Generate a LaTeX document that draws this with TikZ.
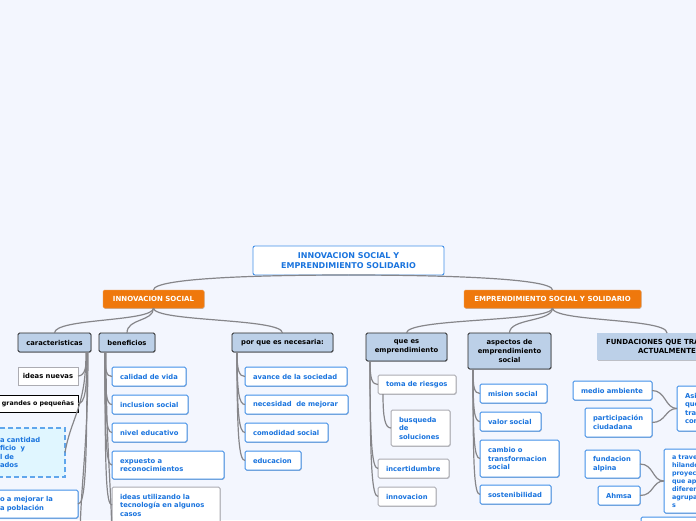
\documentclass[tikz,border=0pt]{standalone}
\usepackage{fontspec}
\setmainfont{DejaVu Sans}
\usetikzlibrary{shadows,calc}
\definecolor{bg}{RGB}{243,246,254}
\definecolor{orng}{RGB}{239,120,12}
\definecolor{lvl}{RGB}{188,208,232}
\definecolor{bluetxt}{RGB}{26,116,222}
\definecolor{blueln}{RGB}{66,144,232}
\definecolor{grayln}{RGB}{172,172,178}
\definecolor{conn}{RGB}{134,134,138}
\definecolor{cyanfill}{RGB}{224,246,255}
\definecolor{dashln}{RGB}{96,166,236}
\newcommand\mybranchR[4]{\draw[conn] ($(#1.south west)+(#3,0)$) .. controls +(0,#4) and +(-6,0) .. (#2.west);}
\newcommand\mybranchL[4]{\draw[conn] ($(#1.south east)+(#3,0)$) .. controls +(0,#4) and +(7,0) .. (#2.east);}
\begin{document}
\begin{tikzpicture}[x=1pt,y=-1pt,
  font=\fontsize{6.8}{8.5}\selectfont\bfseries,
  shd/.style={drop shadow={shadow xshift=0.6pt,shadow yshift=-0.8pt,opacity=0.22,fill=black}},
  bx/.style 2 args={anchor=north west,minimum width=#1pt,minimum height=#2pt,inner ysep=0pt,outer sep=0pt},
  tw/.style={text width=#1pt,align=left},
  rootbox/.style={fill=white,draw=blueln,line width=0.9pt,rounded corners=2pt,text=bluetxt,align=center,
     font=\fontsize{8}{10}\selectfont\bfseries},
  orangebox/.style={fill=orng,draw=orng!85!white,line width=0.5pt,rounded corners=1.5pt,text=white,shd,
     font=\fontsize{7}{8.5}\selectfont\bfseries},
  lvlbox/.style={fill=lvl,draw=black!85,line width=0.9pt,rounded corners=1.5pt,text=black,align=center,shd,
     font=\fontsize{6.8}{8.6}\selectfont\bfseries},
  fundbox/.style={fill=lvl,draw=none,text=black,shd,font=\fontsize{7}{9}\selectfont\bfseries},
  leafb/.style={fill=white,draw=blueln,line width=1pt,rounded corners=1.5pt,text=bluetxt,inner xsep=8pt,shd},
  leafg/.style={fill=white,draw=grayln,line width=1pt,rounded corners=1.5pt,text=bluetxt,inner xsep=8pt,shd},
  leafk/.style={fill=white,draw=grayln,line width=1pt,text=black},
  leafkk/.style={fill=white,draw=black,line width=1pt,text=black},
  dashbox/.style={fill=cyanfill,draw=dashln,line width=1.3pt,dash pattern=on 5pt off 3pt,text=bluetxt},
  conn/.style={draw=conn,line width=1.2pt}]
\useasboundingbox[fill=bg] (0,0) rectangle (696,520);

% root and main branches
\node[rootbox,bx={191}{29}] (root) at (253,246) {INNOVACION SOCIAL Y\\EMPRENDIMIENTO SOLIDARIO};
\node[orangebox,bx={101}{18}] (innov) at (103,290) {INNOVACION SOCIAL};
\node[orangebox,bx={177}{18}] (empr) at (464,290) {EMPRENDIMIENTO SOCIAL Y SOLIDARIO};

% level 2
\node[lvlbox,bx={73}{19}] (car) at (18,333) {caracteristicas};
\node[lvlbox,bx={56}{19}] (ben) at (99,333) {beneficios};
\node[lvlbox,bx={101}{19}] (porq) at (232,333) {por que es necesaria:};
\node[lvlbox,bx={81}{28}] (quees) at (366,333) {que es\\emprendimiento};
\node[lvlbox,bx={83}{36}] (asp) at (468,333) {aspectos de\\emprendimiento\\social};
\node[fundbox,bx={140}{27},inner xsep=9pt,tw=122] (fund) at (597,333) {FUNDACIONES QUE TRA\\\hspace*{32pt}ACTUALMENTE};

% caracteristicas leaves
\node[leafk,bx={60}{18}] (idn) at (18,367) {ideas nuevas};
\node[leafkk,bx={80}{17},inner xsep=0pt,font=\fontsize{6.3}{8}\selectfont\bfseries] (grp) at (-2,395) {grandes o pequeñas};
\node[dashbox,bx={75}{49},inner xsep=10pt,tw=55] (dsh) at (-10,428) {a cantidad\\ficio\ \ y\\l de\\ados};
\node[leafb,bx={88}{28},inner xsep=10pt,tw=68] (mej) at (-10,490) {o a mejorar la\\a población};
\coordinate (carmore) at (80,545);

% beneficios leaves
\node[leafb,bx={74}{19},tw=58] (cal) at (112,367) {calidad de vida};
\node[leafb,bx={76}{19},tw=60] (inc) at (112,395) {inclusion social};
\node[leafb,bx={75}{19},tw=59] (niv) at (112,423) {nivel educativo};
\node[leafb,bx={112}{28},tw=96] (exq) at (112,451) {expuesto a\\reconocimientos};
\node[leafg,bx={108}{36},tw=92] (idt) at (112,487) {ideas utilizando la\\tecnología en algunos\\casos};
\coordinate (benmore) at (112,550);

% por que leaves
\node[leafb,bx={102}{19},tw=86] (ava) at (245,367) {avance de la sociedad};
\node[leafb,bx={103}{19},tw=87] (nec) at (245,395) {necesidad\ \ de mejorar};
\node[leafb,bx={83}{19},tw=67] (com) at (245,423) {comodidad social};
\node[leafb,bx={56}{19},tw=40] (edu) at (245,451) {educacion};

% que es leaves
\node[leafg,bx={78}{19},tw=62] (tom) at (378,375) {toma de riesgos};
\node[leafg,bx={59}{36},tw=43] (bus) at (391,410) {busqueda\\de\\soluciones};
\node[leafg,bx={71}{19},tw=55] (ince) at (378,459) {incertidumbre};
\node[leafg,bx={58}{19},tw=42] (inno) at (378,487) {innovacion};

% aspectos leaves
\node[leafb,bx={67}{19},tw=51] (mis) at (480,384) {mision social};
\node[leafb,bx={61}{19},tw=45] (val) at (480,412) {valor social};
\node[leafb,bx={79}{37},tw=63] (cam) at (480,440) {cambio o\\transformacion\\social};
\node[leafb,bx={71}{19},tw=55] (sos) at (480,485) {sostenibilidad};

% fundaciones
\node[leafb,bx={79}{19},tw=63] (med) at (573,381) {medio ambiente};
\node[leafb,bx={67}{29},tw=51] (par) at (585,408) {participación\\ciudadana};
\node[leafb,bx={50}{45},tw=34] (asi) at (677,386) {Asi\\que\\tra\\con};
\node[leafb,bx={55}{28},tw=39] (alp) at (585,450) {fundacion\\alpina};
\node[leafb,bx={42}{19},tw=26] (ahm) at (598,486) {Ahmsa};
\node[leafb,bx={60}{64},tw=44,font=\fontsize{6.4}{8}\selectfont\bfseries] (tra) at (664,449) {a traves\\hilando\\proyect\\que ape\\diferen\\agrupa\\s};
\node[leafb,bx={80}{20}] (nxt) at (641,517) {};

% connectors: top
\draw[conn] (root.south) .. controls +(-88,0) and +(0,-12) .. (innov.north);
\draw[conn] (root.south) .. controls +(88,0) and +(0,-12) .. (empr.north);
\foreach \c in {car,ben,porq} \draw[conn] (innov.south) .. controls +(0,14) and +(0,-15) .. (\c.north);
\foreach \c in {quees,asp,fund} \draw[conn] (empr.south) .. controls +(0,14) and +(0,-15) .. (\c.north);

% caracteristicas branches (to the left)
\mybranchL{car}{idn}{-4}{14}
\mybranchL{car}{grp}{-4}{38}
\draw[conn] ($(car.south east)+(-5,0)$) .. controls +(0,55) and +(6,-35) .. (dsh.east);
\mybranchL{car}{mej}{-4}{120}
\draw[conn] ($(car.south east)+(-3,0)$) .. controls +(0,100) and +(0,-60) .. (carmore);

% beneficios branches
\mybranchR{ben}{cal}{6}{18}
\mybranchR{ben}{inc}{6}{40}
\mybranchR{ben}{niv}{6}{62}
\mybranchR{ben}{exq}{6}{88}
\mybranchR{ben}{idt}{6}{120}
\draw[conn] ($(ben.south west)+(7,0)$) .. controls +(0,100) and +(0,-60) .. (benmore);

% por que branches
\mybranchR{porq}{ava}{5}{18}
\mybranchR{porq}{nec}{5}{40}
\mybranchR{porq}{com}{5}{62}
\mybranchR{porq}{edu}{5}{84}

% que es branches
\mybranchR{quees}{tom}{4}{18}
\mybranchR{quees}{ince}{4}{82}
\mybranchR{quees}{inno}{4}{104}
\mybranchR{tom}{bus}{5}{24}

% aspectos branches
\mybranchR{asp}{mis}{5}{18}
\mybranchR{asp}{val}{5}{40}
\mybranchR{asp}{cam}{5}{68}
\mybranchR{asp}{sos}{5}{96}

% fundaciones groups
\draw[conn] (med.east) .. controls +(14,0) and +(-12,0) .. (asi.west);
\draw[conn] (par.east) .. controls +(14,0) and +(-12,0) .. (asi.west);
\draw[conn] (alp.east) .. controls +(14,0) and +(-12,0) .. (tra.west);
\draw[conn] (ahm.east) .. controls +(14,0) and +(-12,0) .. (tra.west);
\end{tikzpicture}
\end{document}
